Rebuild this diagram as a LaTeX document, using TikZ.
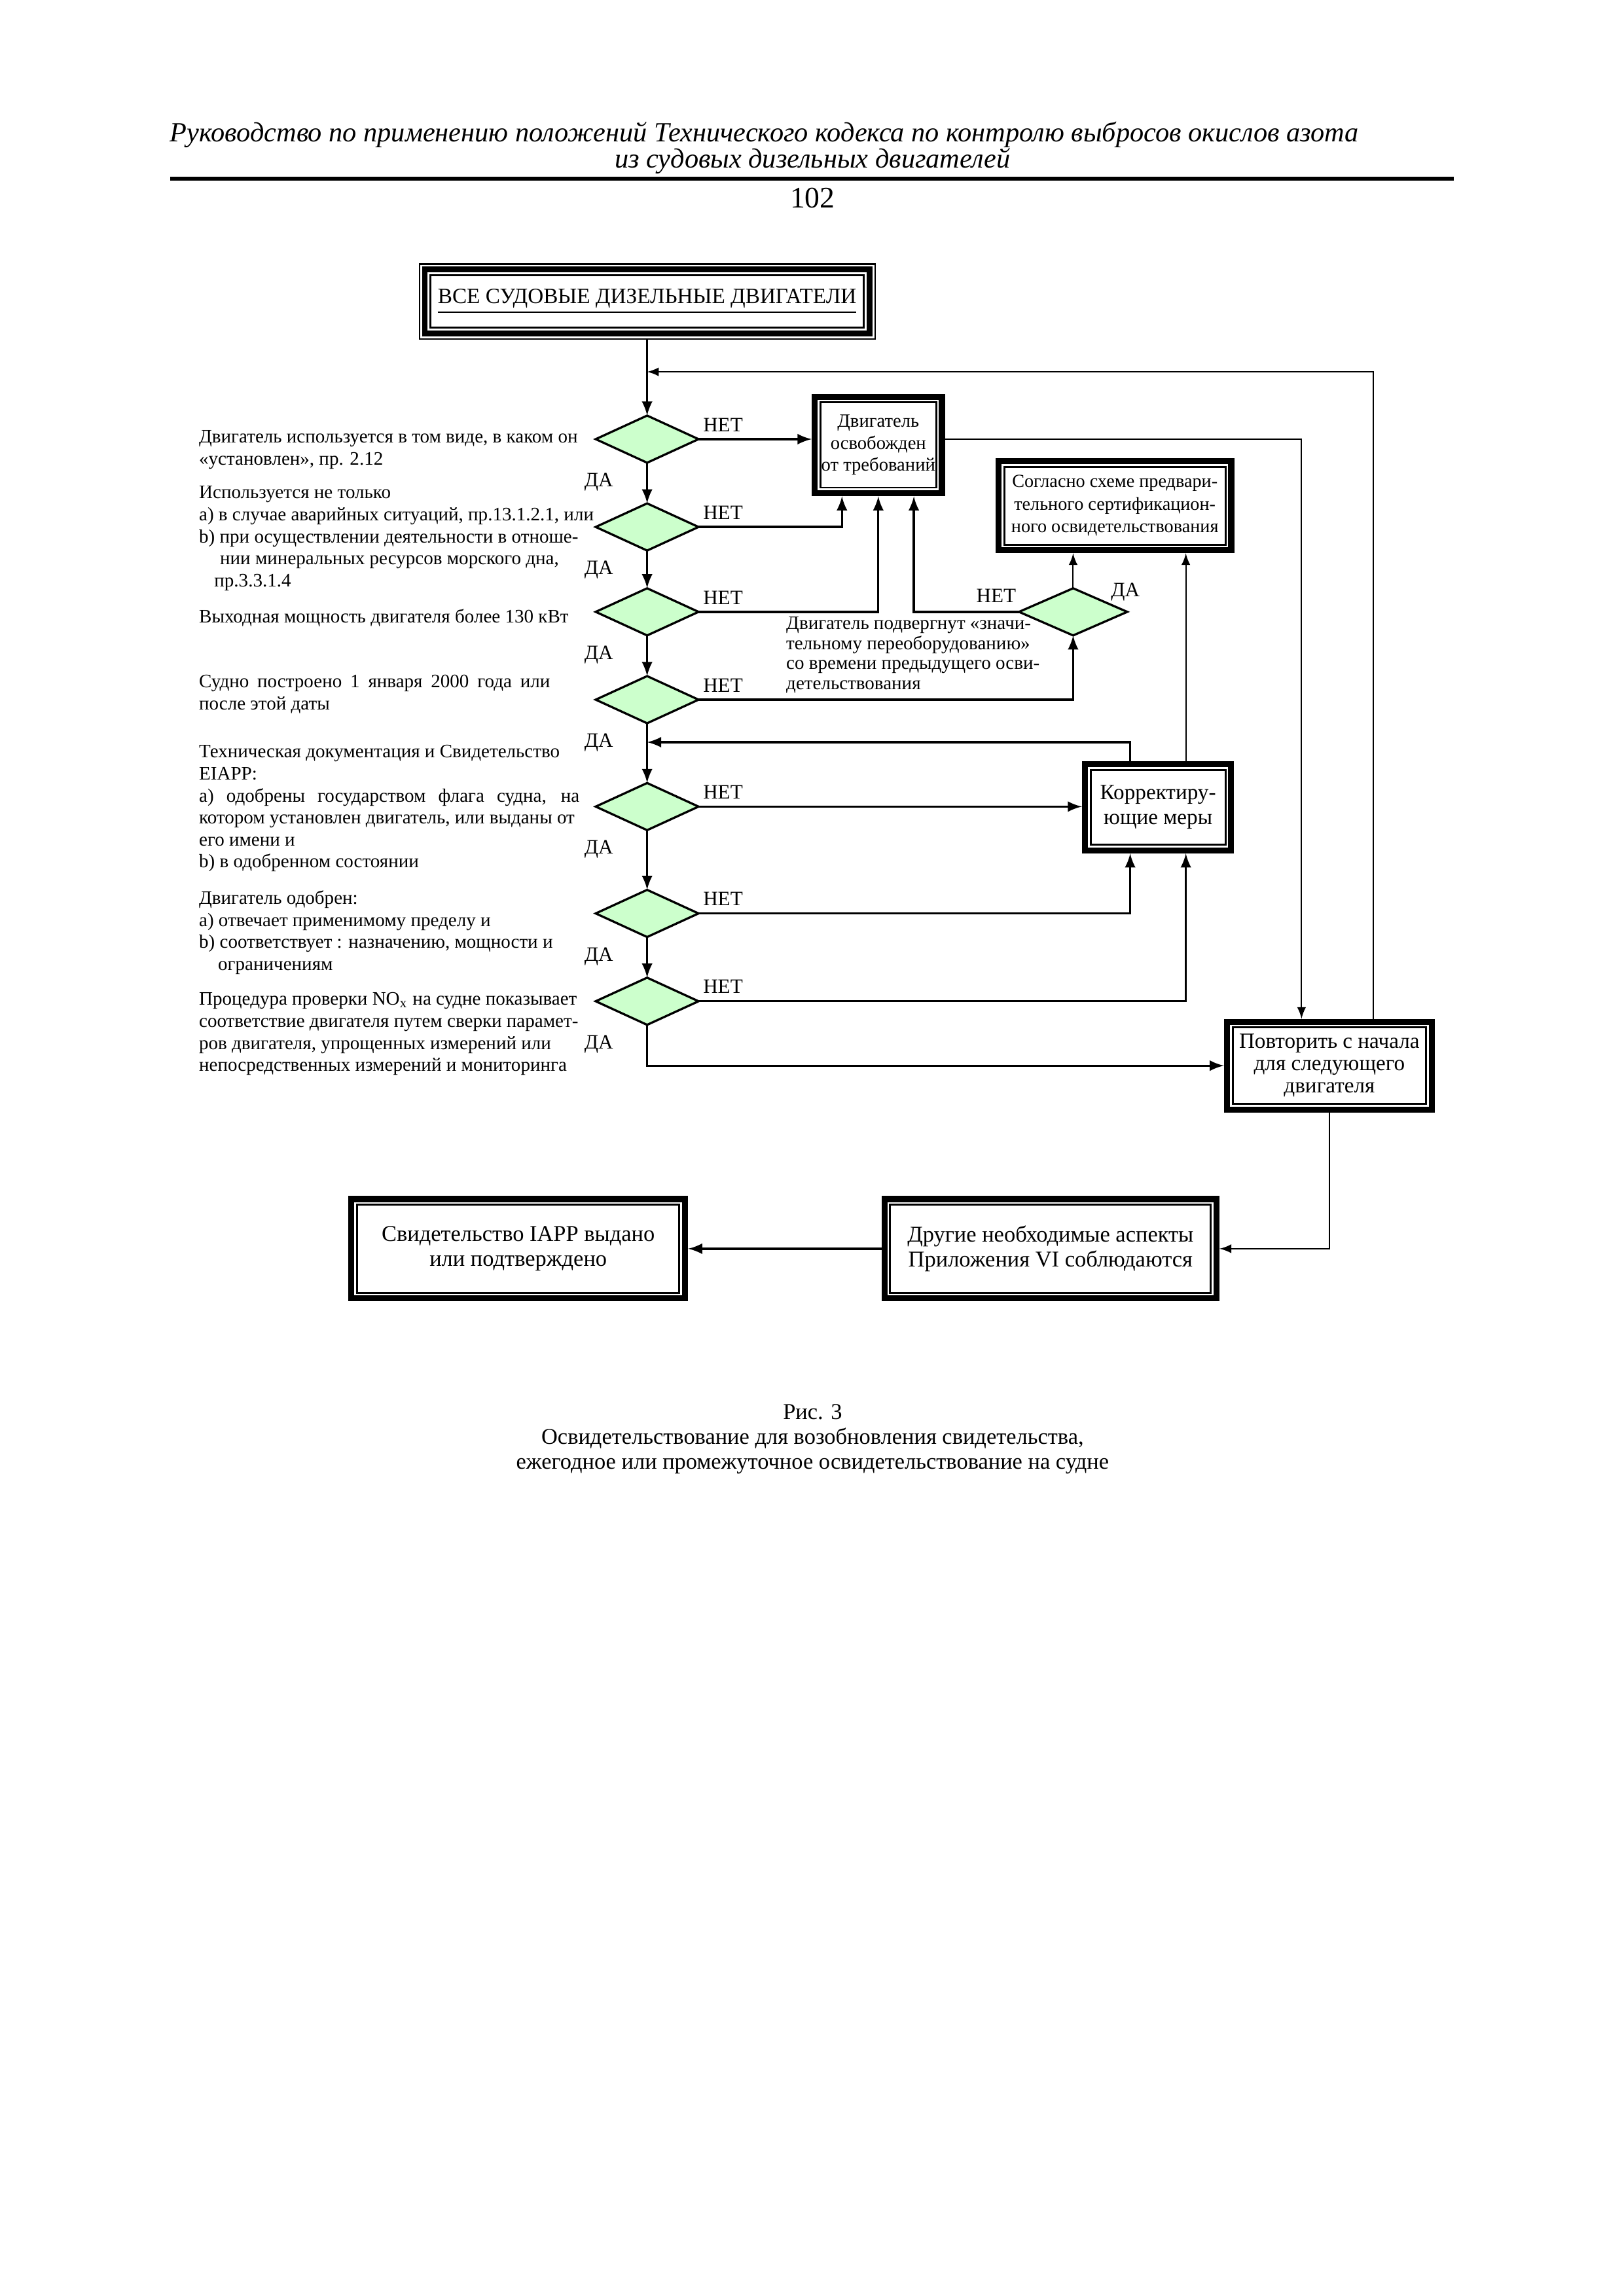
\documentclass[tikz,border=0pt]{standalone}
\usepackage{fontspec}
\setmainfont{Liberation Serif}
\usetikzlibrary{calc}
\usetikzlibrary{shapes.geometric}
\definecolor{dgreen}{RGB}{204,255,204}

\begin{document}
\begin{tikzpicture}[every node/.style={outer sep=0pt,inner sep=0pt}]

	\tikzstyle{decision}=[diamond,draw,line width=0.8pt,fill=dgreen,minimum width=1.33cm,minimum height=0.61cm]
	\tikzstyle{block}=[align=center,font=\fontsize{8}{9.1}\selectfont]
	\tikzstyle{note}=[anchor=north west,align=left,font=\fontsize{7}{8.1}\selectfont]
	\tikzstyle{lbl}=[font=\fontsize{7.5}{9}\selectfont]
	\tikzstyle{flow}=[-latex,line width=0.8pt]
	\tikzstyle{link}=[-latex,line width=0.5pt]

	\useasboundingbox (0,0) rectangle (21,29.7);

	% page header
	\node (head1) at (2.2,27.96) [anchor=west,font=\fontsize{10.2}{12}\selectfont\itshape] {Руководство по применению положений Технического кодекса по контролю выбросов окислов азота};
	\node (head2) at (10.51,27.62) [font=\fontsize{10.2}{12}\selectfont\itshape] {из судовых дизельных двигателей};
	\draw [line width=1.4pt] (2.2,27.39) -- (18.8,27.39);
	\node (page) at (10.51,27.14) [font=\fontsize{11}{13}\selectfont] {102};

	% boxes
	\node (top) at (8.37,25.80) [block,minimum width=5.91cm,minimum height=0.985cm] {\raisebox{-0.6ex}{\underline{ВСЕ СУДОВЫЕ ДИЗЕЛЬНЫЕ ДВИГАТЕЛИ}}};
	\node (exempt) at (11.36,23.943) [block,minimum width=1.723cm,minimum height=1.326cm,font=\fontsize{6.9}{8.1}\selectfont] {Двигатель\\освобожден\\от требований};
	\node (precert) at (14.42,23.158) [block,minimum width=3.087cm,minimum height=1.231cm,font=\fontsize{6.8}{8.3}\selectfont] {Согласно схеме предвари-\\тельного сертификацион-\\ного освидетельствования};
	\node (corr) at (14.978,19.257) [block,minimum width=1.969cm,minimum height=1.193cm] {Корректиру-\\ющие меры};
	\node (repeat) at (17.194,15.915) [block,minimum width=2.727cm,minimum height=1.212cm,font=\fontsize{8}{8.2}\selectfont] {Повторить с начала\\для следующего\\двигателя};
	\node (other) at (13.587,13.547) [block,minimum width=4.374cm,minimum height=1.363cm,font=\fontsize{8.3}{9.1}\selectfont] {Другие необходимые аспекты\\Приложения VI соблюдаются};
	\node (iapp) at (6.703,13.547) [block,minimum width=4.393cm,minimum height=1.363cm,font=\fontsize{8.3}{9.1}\selectfont] {Свидетельство IAPP выдано\\или подтверждено};

	\draw [line width=0.5pt] ($(top.south west)+(0.25pt,0.25pt)$) rectangle ($(top.north east)-(0.25pt,0.25pt)$);
	\draw [line width=2pt] ($(top.south west)+(2.2pt,2.2pt)$) rectangle ($(top.north east)-(2.2pt,2.2pt)$);
	\draw [line width=0.7pt] ($(top.south west)+(4.3pt,4.3pt)$) rectangle ($(top.north east)-(4.3pt,4.3pt)$);
	\foreach \n in {exempt,precert,corr,repeat,other,iapp}
	{
		\draw [line width=2.2pt] ($(\n.south west)+(1.1pt,1.1pt)$) rectangle ($(\n.north east)-(1.1pt,1.1pt)$);
		\draw [line width=0.7pt] ($(\n.south west)+(3.2pt,3.2pt)$) rectangle ($(\n.north east)-(3.2pt,3.2pt)$);
	}

	% decisions
	\foreach \y [count=\i] in {24.019,22.883,21.785,20.649,19.266,17.884,16.748}
	{
		\node (d\i) at (8.37,\y) [decision] {};
		\node (no\i) at ([xshift=0.06cm,yshift=0.1cm]d\i.east) [lbl,anchor=south west] {НЕТ};
		\node (yes\i) at ([xshift=-0.44cm,yshift=-0.25cm]d\i.south) [lbl,anchor=east] {ДА};
	}
	\node (dR) at (13.88,21.785) [decision,minimum width=1.40cm] {};
	\node (noR) at ([xshift=-0.04cm,yshift=0.12cm]dR.west) [lbl,anchor=south east] {НЕТ};
	\node (yesR) at ([xshift=0.49cm,yshift=0.14cm]dR.center) [lbl,anchor=south west] {ДА};

	\coordinate (back1) at (8.37,24.89);
	\coordinate (back2) at (8.37,20.099);

	% questions
	\node (q1) at (2.575,24.13) [note] {Двигатель используется в том виде, в каком он\\«установлен», пр. 2.12};
	\node (q2) at (2.575,23.41) [note] {Используется не только\\a) в случае аварийных ситуаций, пр.13.1.2.1, или\\b) при осуществлении деятельности в отноше-\\\hspace*{1.1em}нии минеральных ресурсов морского дна,\\\hspace*{0.8em}пр.3.3.1.4};
	\node (q3) at (2.575,21.82) [note] {Выходная мощность двигателя более 130 кВт};
	\node (q4) at (2.575,20.97) [note] {\makebox[4.54cm][s]{Судно построено 1 января 2000 года или}\\после этой даты};
	\node (q5) at (2.575,20.06) [note] {Техническая документация и Свидетельство\\EIAPP:\\\makebox[4.92cm][s]{a) одобрены государством флага судна, на}\\котором установлен двигатель, или выданы от\\его имени и\\b) в одобренном состоянии};
	\node (q6) at (2.575,18.18) [note] {Двигатель одобрен:\\a) отвечает применимому пределу и\\b) соответствует : назначению, мощности и\\\hspace*{1em}ограничениям};
	\node (q7) at (2.575,16.86) [note] {Процедура проверки NO\textsubscript{x} на судне показывает\\соответствие двигателя путем сверки парамет-\\ров двигателя, упрощенных измерений или\\непосредственных измерений и мониторинга};
	\node (q8) at (10.17,21.72) [note,font=\fontsize{7}{7.4}\selectfont] {Двигатель подвергнут «значи-\\тельному переоборудованию»\\со времени предыдущего осви-\\детельствования};

	% connectors
	\draw [flow] (top) -- (d1);
	\foreach \i/\j in {1/2,2/3,3/4,4/5,5/6,6/7}
		\draw [flow] (d\i) -- (d\j);
	\draw [flow] (d1.east) -- (d1.east -| exempt.west);
	\draw [flow] (d2.east) -| ([xshift=-0.47cm]exempt.south);
	\draw [flow] (d3.east) -| (exempt.south);
	\draw [flow] (dR.west) -| ([xshift=0.46cm]exempt.south);
	\draw [flow] (d4.east) -| (dR.south);
	\draw [link] (dR.north) -- (dR.north |- precert.south);
	\draw [link] (d1.east -| exempt.east) -| ([xshift=-0.36cm]repeat.north);
	\draw [link] ([xshift=0.36cm]corr.north) -- ([xshift=0.36cm]corr.north |- precert.south);
	\draw [flow] ([xshift=-0.36cm]corr.north) |- (back2);
	\draw [flow] (d5.east) -- (d5.east -| corr.west);
	\draw [flow] (d6.east) -| ([xshift=-0.36cm]corr.south);
	\draw [flow] (d7.east) -| ([xshift=0.36cm]corr.south);
	\draw [flow] (d7.south) |- (repeat.west);
	\draw [link] ([xshift=0.57cm]repeat.north) |- (back1);
	\draw [link] (repeat.south) |- (other.east);
	\draw [flow] (other.west) -- (iapp.east);

	% caption
	\node (cap) at (10.51,11.086) [align=center,font=\fontsize{8.3}{9.1}\selectfont] {Рис. 3\\Освидетельствование для возобновления свидетельства,\\ежегодное или промежуточное освидетельствование на судне};

\end{tikzpicture}
\end{document}
